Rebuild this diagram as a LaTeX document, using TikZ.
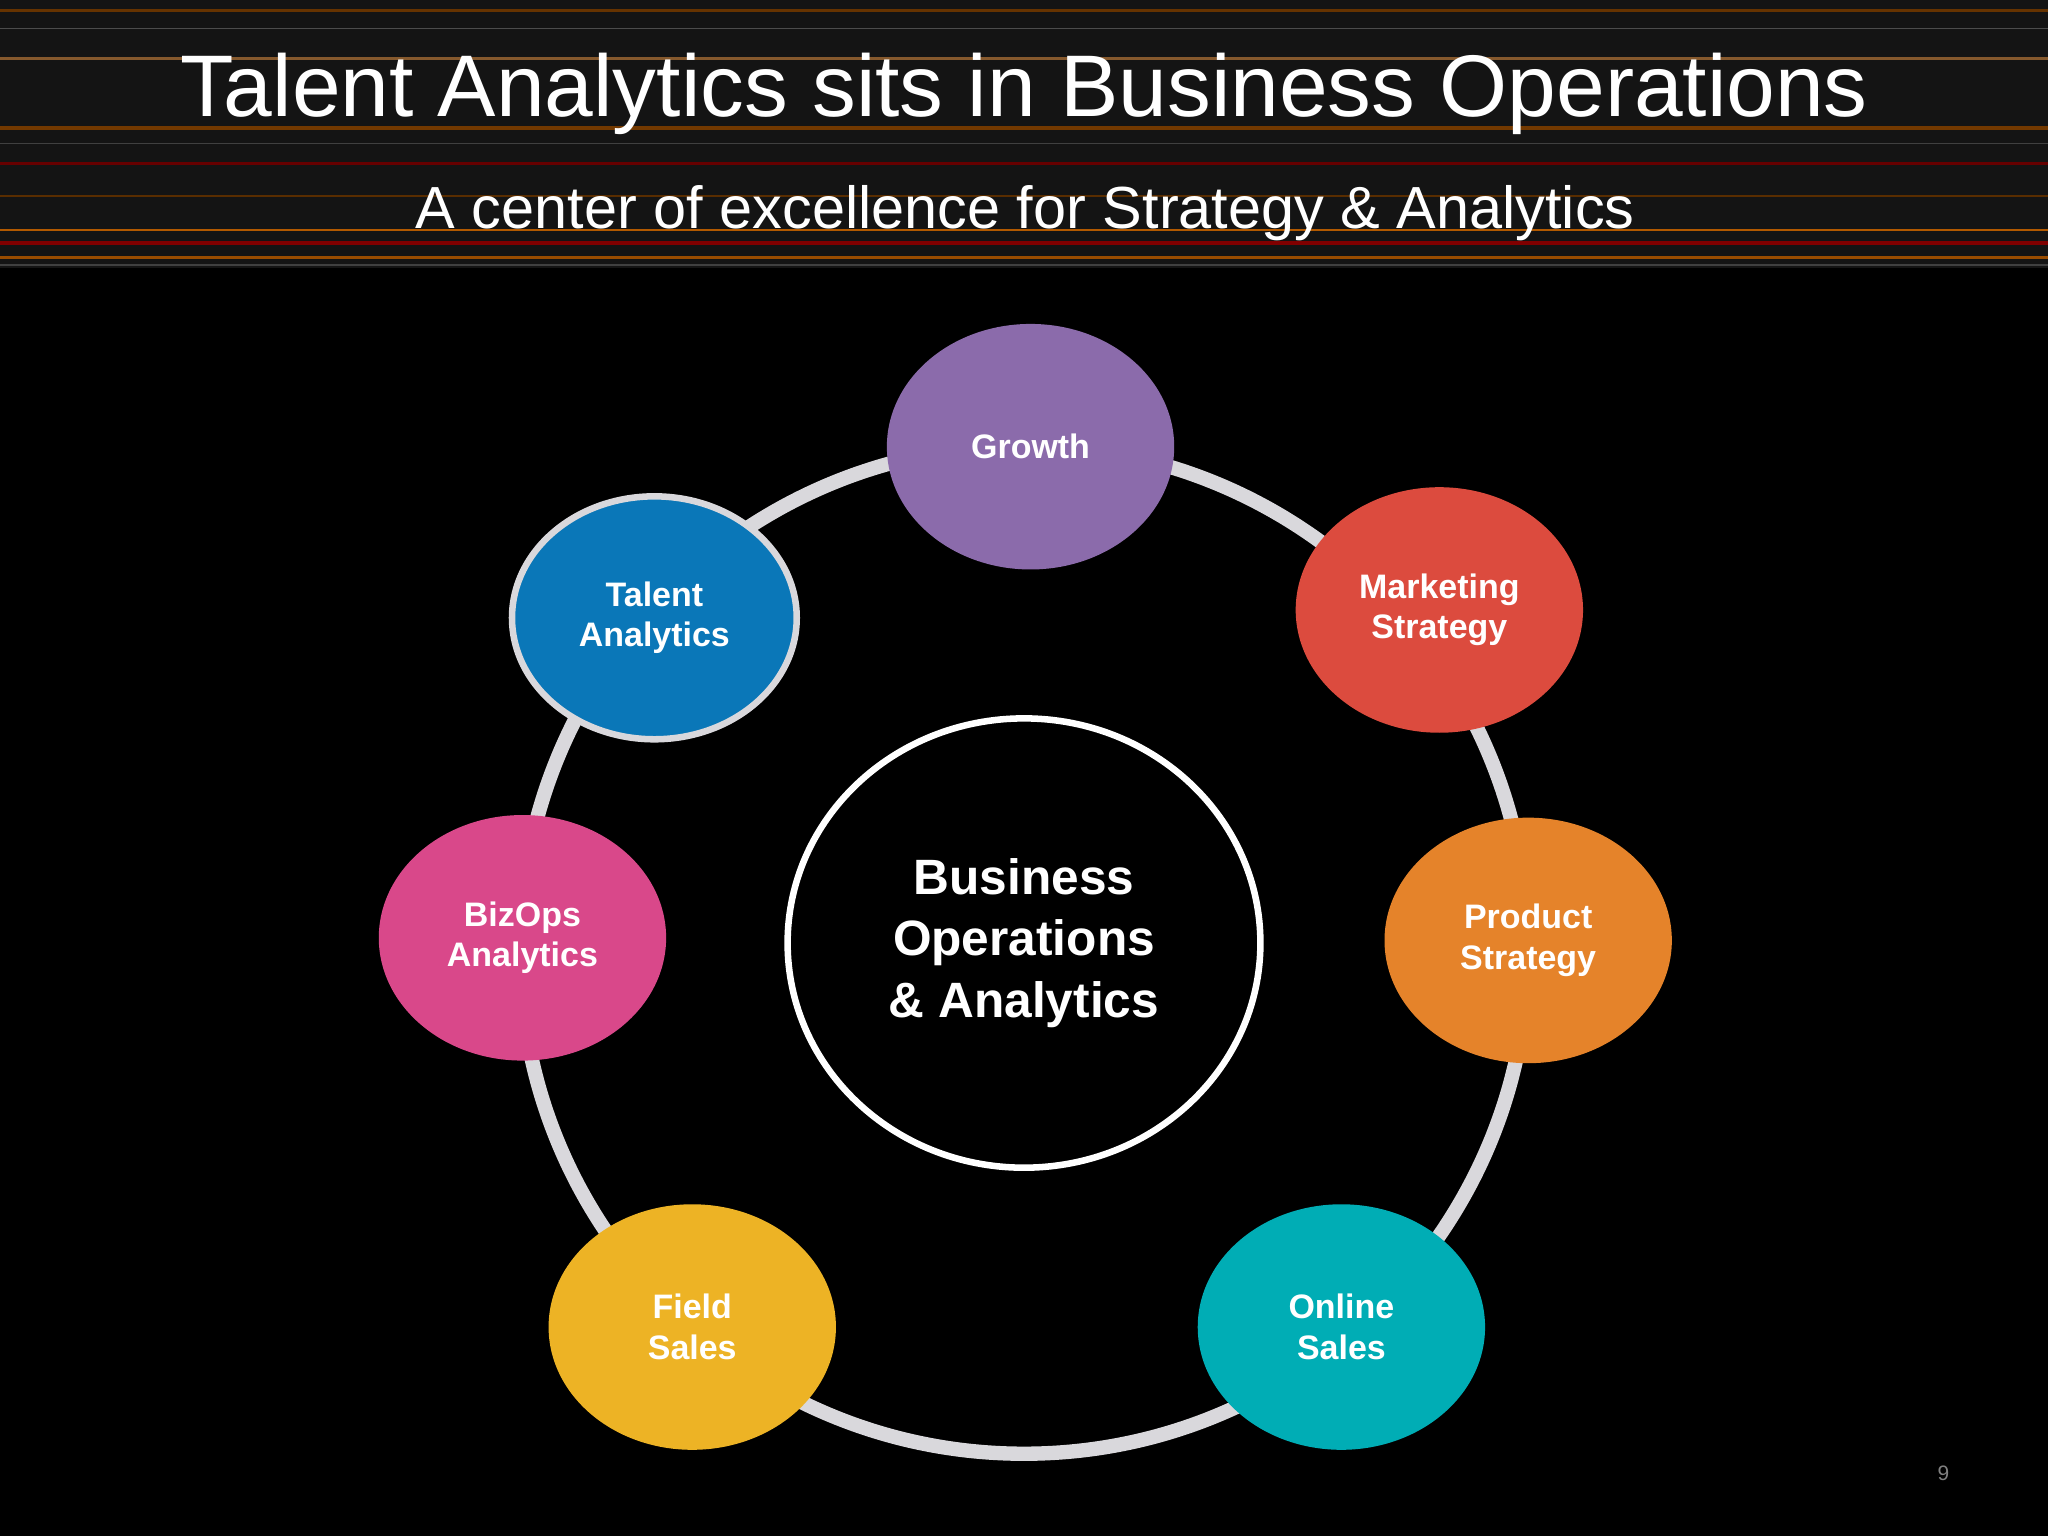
\documentclass[tikz,border=0pt]{standalone}
\usepackage{fontspec}
\setmainfont{Liberation Sans}
\usetikzlibrary{shapes.geometric}
\definecolor{ring}{HTML}{D9D8DC}
\tikzset{
 sat/.style={ellipse,minimum width=220pt,minimum height=188pt,inner sep=0pt,text=white,align=center,font=\fontsize{26}{31}\selectfont\bfseries},
}
\begin{document}
\begin{tikzpicture}[x=1pt,y=-1pt]
\fill[black] (0,0) rectangle (1568,1176);
\useasboundingbox (0,0) rectangle (1568,1176);
% header streaks
\fill[black!92!white] (0,0) rectangle (1568,205);
\foreach \y/\c/\w in {8/orange!40!black/2,22/gray!60!black/1,45/brown!70!black/2,98/orange!45!black/3,110/gray!50!black/1,125/red!40!black/2,150/orange!35!black/2,176/orange!70!black/2,186/red!50!black/3,197/orange!60!black/2,203/gray!50!black/1}
  \draw[\c,line width=\w] (0,\y) -- (1568,\y);
\node[text=white,font=\fontsize{67}{72}\selectfont] (title) at (784,72) {Talent Analytics sits in Business Operations};
\node[text=white,font=\fontsize{45.5}{50}\selectfont] (sub) at (785,163) {A center of excellence for Strategy \& Analytics};
% ring
\coordinate (c) at (784,727);
\draw[ring,line width=11pt] (c) circle (386);
\node[ellipse,draw=white,line width=5pt,minimum width=362pt,minimum height=344pt,inner sep=0pt,align=center,text=white,font=\fontsize{38}{47}\selectfont\bfseries] (center) at (784,722) {Business\\Operations\\\& Analytics};
\node[sat,fill={rgb,255:red,139;green,107;blue,171}] (growth) at (789,342) {Growth};
\node[sat,fill={rgb,255:red,220;green,75;blue,62}] (mkt) at (1102,467) {Marketing\\Strategy};
\node[sat,fill={rgb,255:red,229;green,131;blue,42}] (prod) at (1170,720) {Product\\Strategy};
\node[sat,fill={rgb,255:red,0;green,173;blue,181}] (online) at (1027,1016) {Online\\Sales};
\node[sat,fill={rgb,255:red,237;green,179;blue,37}] (field) at (530,1016) {Field\\Sales};
\node[sat,fill={rgb,255:red,217;green,72;blue,138}] (bizops) at (400,718) {BizOps\\Analytics};
\node[sat,fill={rgb,255:red,10;green,119;blue,184},draw=ring,line width=5pt,minimum width=218pt,minimum height=186pt] (talent) at (501,473) {Talent\\Analytics};
\node[text=gray,font=\fontsize{16}{18}\selectfont] (pg) at (1488,1128) {9};
\end{tikzpicture}
\end{document}
